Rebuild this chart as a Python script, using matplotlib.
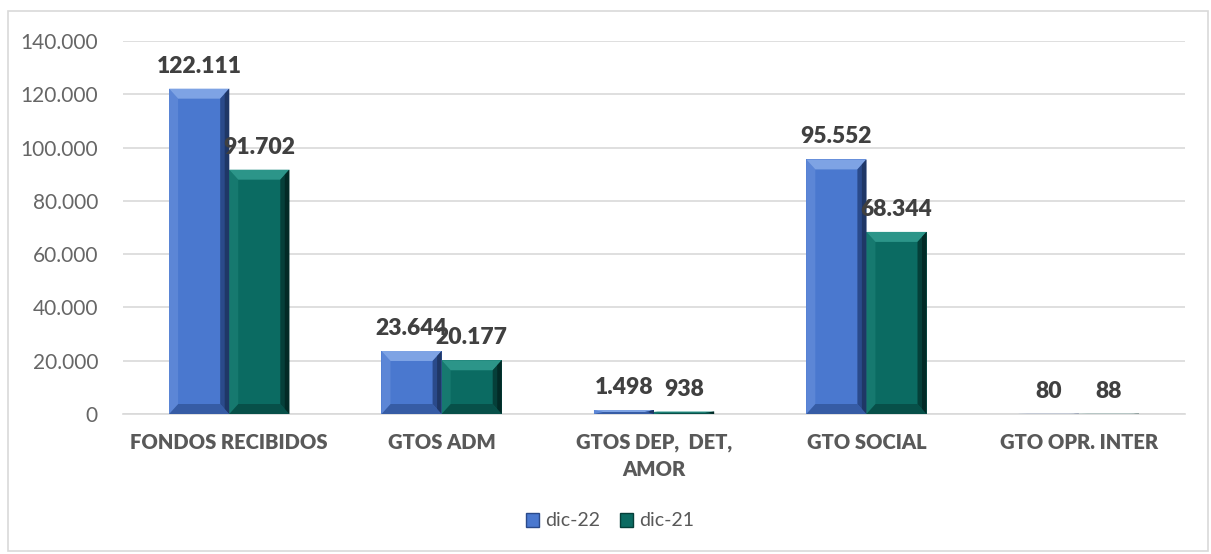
import numpy as np
import matplotlib.pyplot as plt
from matplotlib.patches import Polygon, Rectangle
from matplotlib.ticker import FuncFormatter

plt.rcParams['font.family'] = ['Lato', 'DejaVu Sans']

categories = ['FONDOS RECIBIDOS', 'GTOS ADM', 'GTOS DEP,  DET,\nAMOR', 'GTO SOCIAL', 'GTO OPR. INTER']
dic22 = [122111, 23644, 1498, 95552, 80]
dic21 = [91702, 20177, 938, 68344, 88]
series_names = ['dic-22', 'dic-21']
colors = ['#4a78cf', '#0b6b62']
light = ['#7ea3e4', '#2c9589']
dark = ['#2a4a8a', '#053f39']
darker = ['#1b2f57', '#02221f']


def fmt(v):
    return f'{v:,.0f}'.replace(',', '.')


fig = plt.figure(figsize=(12.11, 5.54), dpi=100)
fig.patches.append(Rectangle((8 / 1211, 3 / 554), 1200 / 1211, 540 / 554,
                             transform=fig.transFigure, fill=False,
                             edgecolor='#d9d9d9', linewidth=1.2))
ax = fig.add_axes([123 / 1211, 140 / 554, 1062 / 1211, 373 / 554])

x = np.arange(len(categories))
width = 0.283
ymax = 140000
ax.set_xlim(-0.5, len(categories) - 0.5)
ax.set_ylim(0, ymax)

# bevel depth in data units (about 10 px tall)
bevel_y = ymax / 373 * 10


def bevel_bar(x0, w, h, i):
    ax.add_patch(Rectangle((x0, 0), w, h, facecolor=colors[i], edgecolor='none', zorder=3))
    dx = min(w * 0.15, w / 2)
    dy = min(bevel_y, h / 2)
    x1 = x0 + w
    # top
    ax.add_patch(Polygon([(x0, h), (x1, h), (x1 - dx, h - dy), (x0 + dx, h - dy)],
                         facecolor=light[i], edgecolor='none', zorder=4))
    # right, darker toward the outer edge
    ax.add_patch(Polygon([(x1, h), (x1, 0), (x1 - dx, dy), (x1 - dx, h - dy)],
                         facecolor=dark[i], edgecolor='none', zorder=4))
    ax.add_patch(Polygon([(x1, h), (x1, 0), (x1 - dx / 2, dy / 2), (x1 - dx / 2, h - dy / 2)],
                         facecolor=darker[i], alpha=0.7, edgecolor='none', zorder=4))
    # bottom
    ax.add_patch(Polygon([(x0, 0), (x1, 0), (x1 - dx, dy), (x0 + dx, dy)],
                         facecolor=dark[i], alpha=0.6, edgecolor='none', zorder=4))
    # left
    ax.add_patch(Polygon([(x0, 0), (x0, h), (x0 + dx, h - dy), (x0 + dx, dy)],
                         facecolor=light[i], alpha=0.35, edgecolor='none', zorder=4))


for i, vals in enumerate([dic22, dic21]):
    offs = (i - 1) * width
    for xi, v in zip(x, vals):
        bevel_bar(xi + offs, width, v, i)
        ax.text(xi + offs + width / 2, v + 4500, fmt(v), ha='center', va='bottom',
                fontsize=16.5, fontweight='heavy', color='#404040', zorder=5)

ax.set_yticks(np.arange(0, 140001, 20000))
ax.yaxis.set_major_formatter(FuncFormatter(lambda v, p: fmt(v)))
ax.set_xticks(x)
ax.set_xticklabels(categories, fontsize=14.5, fontweight='heavy', color='#595959',
                   linespacing=1.5)
ax.tick_params(axis='y', labelsize=15, labelcolor='#666666', length=0, pad=18)
ax.tick_params(axis='x', length=0, pad=14)
ax.grid(axis='y', color='#d9d9d9', linewidth=1.2, zorder=0)
ax.set_axisbelow(True)
for s in ['top', 'right', 'left']:
    ax.spines[s].set_visible(False)
ax.spines['bottom'].set_color('#d9d9d9')
ax.spines['bottom'].set_linewidth(1.2)

handles = [Rectangle((0, 0), 1, 1, facecolor=colors[i], edgecolor=dark[i]) for i in range(2)]
fig.legend(handles, series_names, loc='center', bbox_to_anchor=(610 / 1211, 1 - 521 / 554),
           ncol=2, frameon=False, fontsize=14, handlelength=0.7, handleheight=0.7,
           handletextpad=0.3, columnspacing=1.0, labelcolor='#595959')

fig.savefig('out.png', dpi=100)
